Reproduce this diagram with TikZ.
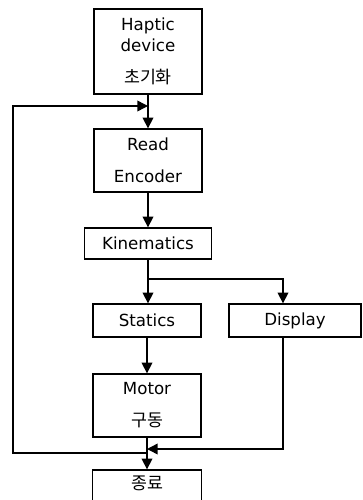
\documentclass[tikz,border=0pt]{standalone}
\usepackage{fontspec}
\setmainfont{DejaVu Sans}
\newfontfamily\kr{Noto Sans CJK KR}
\usetikzlibrary{arrows.meta}
\begin{document}
\begin{tikzpicture}[x=0.75pt,y=-0.75pt,
  box/.style={draw, line width=1pt, inner sep=0pt, align=center,
    font=\fontsize{12.5}{15.75}\selectfont},
  kt/.style={font=\kr\fontsize{13}{14}\selectfont},
  conn/.style={line width=1.1pt, -{Triangle[length=8pt,width=8pt]}},
  ln/.style={line width=1.1pt}]
\useasboundingbox (0,0) rectangle (362,500);
\clip (0,0) rectangle (362,500);
\node[box, minimum width=81pt, minimum height=63.75pt] (haptic) at (148,51.5)
  {Haptic\\device\\[8.25pt]{\kr\fontsize{13}{14}\selectfont 초기화}};
\node[box, minimum width=81pt, minimum height=47.25pt] (read) at (148,160.5)
  {Read\\[8.25pt]Encoder};
\node[box, minimum width=95.25pt, minimum height=23.25pt] (kin) at (148,243.5)
  {Kinematics};
\node[box, minimum width=81pt, minimum height=24.75pt] (statics) at (147,320.5)
  {Statics};
\node[box, minimum width=99pt, minimum height=24.75pt] (display) at (295,320.5)
  {Display};
\node[box, minimum width=81pt, minimum height=47.25pt] (motor) at (147,405.5)
  {Motor\\[8.25pt]{\kr\fontsize{13}{14}\selectfont 구동}};
\node[box, minimum width=81.75pt, minimum height=30pt] (end) at (147,490) {};
\node[kt] (endt) at (147,483) {종료};
% connectors
\coordinate (top) at (148,106);
\coordinate (split) at (148,279);
\coordinate (join) at (147,449);
\coordinate (ret) at (147,453);
\coordinate (c1) at (13,453);
\coordinate (c2) at (13,106);
\draw[conn] (haptic.south) -- (read.north);
\draw[conn] (read.south) -- (kin.north);
\draw[conn] (kin.south) -- (kin.south |- statics.north);
\draw[conn] (split) -| ([xshift=-9pt]display.north);
\draw[conn] (statics.south) -- (motor.north);
\draw[conn] (motor.south) -- (end.north);
\draw[conn] ([xshift=-9pt]display.south) |- (join);
\draw[conn] (ret) -- (c1) -- (c2) -- (top);
\end{tikzpicture}
\end{document}
